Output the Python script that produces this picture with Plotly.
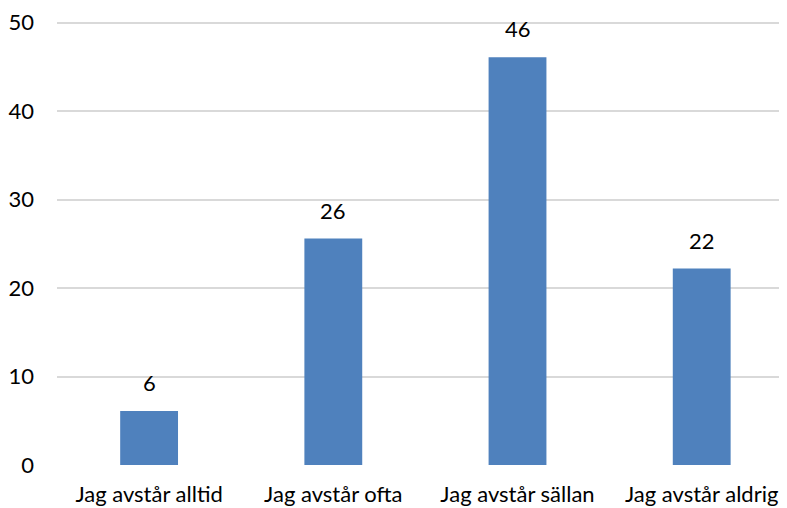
import plotly.graph_objects as go

categories = ["Jag avstår alltid", "Jag avstår ofta", "Jag avstår sällan", "Jag avstår aldrig"]
values = [6.1, 25.6, 46.1, 22.2]
y_ticks = [0, 10, 20, 30, 40, 50]

FONT = "Lato, Carlito, Calibri, sans-serif"
FS = 22

fig = go.Figure()
fig.add_trace(go.Bar(
    x=list(range(len(categories))),
    y=values,
    marker=dict(color="#4F81BD", line=dict(width=0)),
    width=0.314,
    hoverinfo="skip",
))

for i, v in enumerate(values):
    fig.add_annotation(
        x=i, y=v, text=f"{round(v):d}", showarrow=False,
        yanchor="bottom", yshift=13,
        font=dict(family=FONT, size=FS, color="#000000"),
    )

# page body has an 8px default margin, so the figure is offset by 8px
fig.update_layout(
    width=779, height=500,
    margin=dict(l=47, r=0, t=10, b=43),
    paper_bgcolor="white", plot_bgcolor="white",
    showlegend=False,
    font=dict(family=FONT, size=FS, color="#000000"),
    xaxis=dict(
        tickmode="array",
        tickvals=list(range(len(categories))),
        ticktext=categories,
        range=[-0.5, 3.463],
        showgrid=False, zeroline=False, showline=False,
        ticks="", ticklabelstandoff=14,
        tickfont=dict(family=FONT, size=FS, color="#000000"),
    ),
    yaxis=dict(
        range=[0, 50.3],
        tickmode="array",
        tickvals=y_ticks,
        ticktext=[str(t) for t in y_ticks],
        showgrid=True, gridcolor="#D9D9D9", gridwidth=1.5,
        zeroline=False, showline=False,
        ticks="", ticklabelstandoff=22,
        ticklabeloverflow="allow",
        tickfont=dict(family=FONT, size=FS, color="#000000"),
    ),
)

fig.write_html("out.html")
